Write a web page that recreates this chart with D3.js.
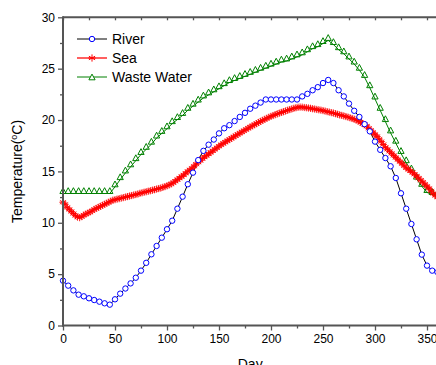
<!DOCTYPE html>
<html><head><meta charset="utf-8">
<script src="https://cdn.jsdelivr.net/npm/d3@7"></script>
<style>body{margin:0;background:#fff}svg{display:block;font-family:"Liberation Sans",Arial,sans-serif}</style>
</head><body><svg id="c" width="436" height="365"></svg>
<script>
// ---- data ----
const days5 = [0,5,10,15,20,25,30,35,40,45,50,55,60,65,70,75,80,85,90,95,100,105,110,115,120,125,130,135,140,145,150,155,160,165,170,175,180,185,190,195,200,205,210,215,220,225,230,235,240,245,250,255,260,265,270,275,280,285,290,295,300,305,310,315,320,325,330,335,340,345,350,355,360];
const river = [4.36,3.88,3.42,3.0,2.84,2.65,2.48,2.32,2.16,2.03,2.55,3.1,3.6,4.1,4.65,5.34,6.1,6.93,7.74,8.55,9.37,10.2,11.37,12.54,13.75,14.88,16.1,17.0,17.6,18.1,18.7,19.2,19.5,19.9,20.3,20.7,21.1,21.4,21.7,22.0,22.0,22.0,22.0,22.0,22.0,22.0,22.3,22.55,22.9,23.2,23.6,23.9,23.6,22.9,22.3,21.6,20.9,20.3,19.6,18.9,17.9,17.1,16.3,15.5,14.36,12.87,11.37,9.88,8.39,6.9,5.83,5.34,5.2];
const waste = [12.85,12.85,12.85,12.85,12.85,12.85,12.85,12.85,12.85,12.85,13.5,14.2,14.85,15.45,16.05,16.65,17.15,17.65,18.25,18.7,19.15,19.65,20.05,20.45,20.95,21.35,21.75,22.15,22.45,22.75,23.05,23.35,23.65,23.85,24.05,24.25,24.45,24.65,24.85,25.05,25.25,25.45,25.65,25.75,25.95,26.15,26.35,26.65,26.95,27.15,27.45,27.75,27.35,26.85,26.45,25.95,25.45,24.85,24.15,23.15,22.05,20.95,19.85,18.75,17.75,16.75,15.85,15.05,14.25,13.55,12.95,12.75,12.6];
const seaDays = [0,2,4,6,8,10,12,14,16,18,20,22,24,26,28,30,32,34,36,38,40,42,44,46,48,50,52,54,56,58,60,62,64,66,68,70,72,74,76,78,80,82,84,86,88,90,92,94,96,98,100,102,104,106,108,110,112,114,116,118,120,122,124,126,128,130,132,134,136,138,140,142,144,146,148,150,152,154,156,158,160,162,164,166,168,170,172,174,176,178,180,182,184,186,188,190,192,194,196,198,200,202,204,206,208,210,212,214,216,218,220,222,224,226,228,230,232,234,236,238,240,242,244,246,248,250,252,254,256,258,260,262,264,266,268,270,272,274,276,278,280,282,284,286,288,290,292,294,296,298,300,302,304,306,308,310,312,314,316,318,320,322,324,326,328,330,332,334,336,338,340,342,344,346,348,350,352,354,356,358,360];
const sea = [12.0,11.8,11.5,11.3,11.1,10.9,10.7,10.55,10.5,10.6,10.75,10.85,10.95,11.05,11.15,11.3,11.4,11.5,11.6,11.7,11.8,11.9,12.0,12.1,12.2,12.25,12.3,12.35,12.4,12.45,12.5,12.55,12.6,12.65,12.7,12.75,12.8,12.87,12.92,12.97,13.02,13.07,13.12,13.17,13.22,13.28,13.33,13.38,13.45,13.52,13.6,13.68,13.78,13.9,14.05,14.2,14.35,14.5,14.65,14.82,15.0,15.15,15.3,15.5,15.7,15.9,16.05,16.25,16.4,16.55,16.7,16.85,17.0,17.15,17.3,17.45,17.6,17.72,17.85,17.98,18.1,18.22,18.35,18.47,18.6,18.72,18.84,18.96,19.08,19.2,19.32,19.43,19.54,19.65,19.76,19.87,19.97,20.07,20.17,20.27,20.36,20.44,20.52,20.6,20.67,20.74,20.81,20.88,20.95,21.02,21.08,21.14,21.2,21.24,21.26,21.25,21.22,21.2,21.17,21.14,21.1,21.07,21.03,21.0,20.96,20.92,20.87,20.82,20.77,20.72,20.68,20.62,20.56,20.5,20.45,20.4,20.34,20.28,20.22,20.15,20.08,20.0,19.9,19.78,19.66,19.55,19.42,19.2,19.0,18.8,18.6,18.4,18.15,17.9,17.62,17.35,17.15,16.95,16.75,16.55,16.35,16.15,15.95,15.75,15.55,15.35,15.2,15.05,14.9,14.72,14.55,14.35,14.15,13.95,13.75,13.55,13.35,13.1,12.85,12.65,12.5];
const xTicks = [0,50,100,150,200,250,300,350];
const xMinor = [25,75,125,175,225,275,325];
const yTicks = [0,5,10,15,20,25,30];
const yMinor = [2.5,7.5,12.5,17.5,22.5,27.5];
const seriesNames = ["River","Sea","Waste Water"];

// ---- layout ----
const svg = d3.select("#c");
const L = 63, R = 437.4, T = 17.3, B = 325.5;
const x = d3.scaleLinear().domain([0,360]).range([L,R]);
const y = d3.scaleLinear().domain([0,30]).range([B,T]);
const axisColor = "#555";

// ---- series lines ----
const lineGen = (xs, ys) => d3.line().x((d,i)=>x(xs[i])).y(d=>y(d))(ys);
svg.append("path").attr("d", lineGen(days5, waste)).attr("fill","none").attr("stroke","#008000").attr("stroke-width",1);
svg.append("path").attr("d", lineGen(seaDays, sea)).attr("fill","none").attr("stroke","#ff6060").attr("stroke-width",2);
svg.append("path").attr("d", lineGen(days5, river)).attr("fill","none").attr("stroke","#000").attr("stroke-width",1);

// marker shapes
const triPath = "M-3.1,0L3.1,0L0,-5.8Z";
const starPath = "M0,-3.6L0,3.6M-3.1,-1.8L3.1,1.8M-3.1,1.8L3.1,-1.8M-3.6,0L3.6,0";

svg.append("g").selectAll("path").data(waste).enter().append("path")
  .attr("d",triPath).attr("transform",(d,i)=>`translate(${x(days5[i])},${y(d)})`)
  .attr("fill","none").attr("stroke","#008000").attr("stroke-width",1);
svg.append("g").selectAll("path").data(sea).enter().append("path")
  .attr("d",starPath).attr("transform",(d,i)=>`translate(${x(seaDays[i])},${y(d)})`)
  .attr("fill","none").attr("stroke","#ff0000").attr("stroke-width",0.9);
svg.append("g").selectAll("circle").data(river).enter().append("circle")
  .attr("cx",(d,i)=>x(days5[i])).attr("cy",d=>y(d)).attr("r",2.7)
  .attr("fill","#fff").attr("stroke","#0000ff").attr("stroke-width",1);

// ---- axes ----
const fontSize = "12px";
const gx = svg.append("g").attr("transform",`translate(0,${B})`)
  .call(d3.axisBottom(x).tickValues(xTicks).tickSize(5).tickPadding(4).tickFormat(d3.format("d")));
const gxm = svg.append("g").attr("transform",`translate(0,${B})`)
  .call(d3.axisBottom(x).tickValues(xMinor).tickSize(3).tickFormat(""));
const gy = svg.append("g").attr("transform",`translate(${L},0)`)
  .call(d3.axisLeft(y).tickValues(yTicks).tickSize(5).tickPadding(3).tickFormat(d3.format("d")));
const gym = svg.append("g").attr("transform",`translate(${L},0)`)
  .call(d3.axisLeft(y).tickValues(yMinor).tickSize(3).tickFormat(""));
const gt = svg.append("g").attr("transform",`translate(0,${T})`)
  .call(d3.axisBottom(x).tickValues(xTicks.concat(xMinor)).tickSize(3).tickFormat(""));
[gx,gxm,gy,gym,gt].forEach(g=>{
  g.select(".domain").remove();
  g.selectAll("line").attr("stroke",axisColor).attr("stroke-width",1.3);
  g.selectAll("text").attr("fill","#000").style("font-size",fontSize).style("font-family",'"Liberation Sans",Arial,sans-serif');
});
svg.append("line").attr("x1",L-1).attr("x2",R).attr("y1",B).attr("y2",B).attr("stroke",axisColor).attr("stroke-width",2);
svg.append("line").attr("x1",L).attr("x2",R).attr("y1",T).attr("y2",T).attr("stroke",axisColor).attr("stroke-width",2);
svg.append("line").attr("x1",L).attr("x2",L).attr("y1",T-1).attr("y2",B+1).attr("stroke",axisColor).attr("stroke-width",2);

// ---- axis titles ----
svg.append("text").attr("x",x(180)).attr("y",369).attr("text-anchor","middle")
  .style("font-size","14px").text("Day");
const yt = svg.append("text").attr("transform",`translate(22,${(T+B)/2}) rotate(-90)`)
  .attr("text-anchor","middle").style("font-size","14px");
yt.append("tspan").text("Temperature(");
yt.append("tspan").attr("dy",-5).style("font-size","9px").text("o");
yt.append("tspan").attr("dy",5).text("C)");

// ---- legend ----
const lg = svg.append("g");
const rows = [39,58,77];
const lx1 = 77, lx2 = 107, lmx = 92;
lg.append("line").attr("x1",lx1).attr("x2",lx2).attr("y1",rows[0]).attr("y2",rows[0]).attr("stroke","#000").attr("stroke-width",1);
lg.append("circle").attr("cx",lmx).attr("cy",rows[0]).attr("r",2.7).attr("fill","#fff").attr("stroke","#0000ff");
lg.append("line").attr("x1",lx1).attr("x2",lx2).attr("y1",rows[1]).attr("y2",rows[1]).attr("stroke","#ff6060").attr("stroke-width",2);
lg.append("path").attr("d",starPath).attr("transform",`translate(${lmx},${rows[1]})`).attr("stroke","#ff0000").attr("fill","none");
lg.append("line").attr("x1",lx1).attr("x2",lx2).attr("y1",rows[2]).attr("y2",rows[2]).attr("stroke","#008000").attr("stroke-width",1);
lg.append("path").attr("d","M-3.1,2.8L3.1,2.8L0,-2.9Z").attr("transform",`translate(${lmx},${rows[2]})`).attr("stroke","#008000").attr("fill","#fff");
seriesNames.forEach((n,i)=>{
  lg.append("text").attr("x",112).attr("y",rows[i]).attr("dy","0.35em").style("font-size","14px").text(n);
});
</script></body></html>
